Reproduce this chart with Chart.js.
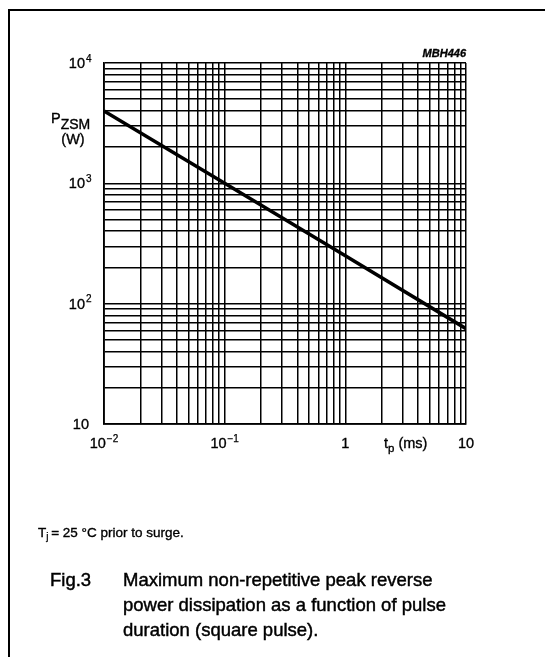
<!DOCTYPE html>
<html>
<head>
<meta charset="utf-8">
<script src="https://cdn.jsdelivr.net/npm/chart.js@4/dist/chart.umd.min.js"></script>
<style>
  html, body { margin: 0; padding: 0; background: #fff; }
  canvas { display: block; }
</style>
</head>
<body>
<canvas id="chart" width="545" height="657"></canvas>
<script>
// pulse duration tp (ms) and peak power PZSM (W)
const pulseDuration = [0.01, 0.1, 1, 10];
const peakPower = [4000, 1000, 250, 62];

// axis ranges and labelled ticks
const xRange = [0.01, 10];
const yRange = [10, 10000];
const xTickValues = [0.01, 0.1, 1, 10];
const xTickLabels = [['10', '\u22122'], ['10', '\u22121'], ['1', ''], ['10', '']];
const yTickValues = [10, 100, 1000, 10000];
const yTickLabels = [['10', ''], ['10', '2'], ['10', '3'], ['10', '4']];

const FONT = '"Liberation Sans", Arial, Helvetica, sans-serif';
const INK = '#000';

// 1..9 x 10^n lines for a log grid
function logGridTicks (min, max) {
  const ticks = [];
  for (let e = Math.floor(Math.log10(min)); e <= Math.ceil(Math.log10(max)); e++) {
    for (let m = 1; m <= 9; m++) {
      const v = Number((m * Math.pow(10, e)).toPrecision(6));
      if (v >= min && v <= max) ticks.push({ value: v, major: m === 1 });
    }
  }
  return ticks;
}

// text with a hairline stroke, so it reads as heavy as the scanned original
function put (ctx, str, x, y, size, opts = {}) {
  ctx.font = (opts.style || '') + ' ' + size + 'px ' + FONT;
  ctx.textAlign = opts.align || 'left';
  ctx.textBaseline = 'alphabetic';
  ctx.fillStyle = INK;
  ctx.strokeStyle = INK;
  ctx.lineWidth = opts.stroke === undefined ? 0.35 : opts.stroke;
  ctx.fillText(str, x, y);
  if (ctx.lineWidth > 0) ctx.strokeText(str, x, y);
  return ctx.measureText(str).width;
}

function width (ctx, str, size, style = '') {
  ctx.font = style + ' ' + size + 'px ' + FONT;
  return ctx.measureText(str).width;
}

const figureText = {
  id: 'figureText',
  beforeDraw (chart) {
    const ctx = chart.ctx;
    ctx.save();
    ctx.fillStyle = '#fff';
    ctx.fillRect(0, 0, chart.width, chart.height);
    ctx.restore();
  },
  afterDraw (chart) {
    const ctx = chart.ctx;
    const xs = chart.scales.x;
    const ys = chart.scales.y;
    ctx.save();

    // frame
    ctx.strokeStyle = INK;
    ctx.lineWidth = 2;
    ctx.beginPath();
    ctx.moveTo(545, 10);
    ctx.lineTo(9, 10);
    ctx.lineTo(9, 657);
    ctx.stroke();

    // x tick labels
    const xBase = 448;
    xTickValues.forEach((v, i) => {
      const [b, sup] = xTickLabels[i];
      const wb = width(ctx, b, 14.5);
      const ws = sup ? width(ctx, sup, 10) + 1 : 0;
      const x0 = xs.getPixelForValue(v) - (wb + ws) / 2;
      put(ctx, b, x0, xBase, 14.5);
      if (sup) put(ctx, sup, x0 + wb + 1, xBase - 6.5, 10, { stroke: 0.25 });
    });

    // y tick labels
    yTickValues.forEach((v, i) => {
      const [b, sup] = yTickLabels[i];
      const y = ys.getPixelForValue(v);
      if (sup) {
        put(ctx, b, 85, y + 5, 14.5, { align: 'right' });
        put(ctx, sup, 86, y - 1.5, 10, { stroke: 0.25 });
      } else {
        put(ctx, b, 89, y + 5, 14.5, { align: 'right' });
      }
    });

    // axis titles
    const wp = put(ctx, 'P', 51, 123, 14.5);
    put(ctx, 'ZSM', 51 + wp, 128.5, 14);
    put(ctx, '(W)', 73, 144, 14.5, { align: 'center' });

    const wt = put(ctx, 't', 384, xBase, 14.5);
    const wsub = put(ctx, 'p', 384 + wt, xBase + 4, 11.5);
    put(ctx, ' (ms)', 384 + wt + wsub, xBase, 14.5);

    put(ctx, 'MBH446', xs.right, 57, 11, { align: 'right', style: 'italic bold', stroke: 0 });

    // note
    const wT = put(ctx, 'T', 38, 537, 13.5);
    const wj = put(ctx, 'j', 38 + wT, 540, 10, { stroke: 0.25 });
    put(ctx, ' = 25 \u00b0C prior to surge.', 38 + wT + wj - 1, 537, 13.5);

    // caption
    put(ctx, 'Fig.3', 50, 586, 18.5, { stroke: 0.45 });
    put(ctx, 'Maximum non-repetitive peak reverse', 123, 586, 18.5, { stroke: 0.45 });
    put(ctx, 'power dissipation as a function of pulse', 123, 611, 18.5, { stroke: 0.45 });
    put(ctx, 'duration (square pulse).', 123, 636, 18.5, { stroke: 0.45 });

    ctx.restore();
  }
};

const gridStyle = {
  color: INK,
  lineWidth: 1.5,
  drawTicks: false
};

new Chart(document.getElementById('chart'), {
  type: 'line',
  data: {
    datasets: [{
      data: pulseDuration.map((t, i) => ({ x: t, y: peakPower[i] })),
      borderColor: '#000',
      borderWidth: 3.5,
      pointRadius: 0,
      tension: 0,
      fill: false
    }]
  },
  options: {
    responsive: false,
    animation: false,
    devicePixelRatio: 1,
    layout: { padding: { left: 104, right: 79, top: 63, bottom: 233 } },
    plugins: { legend: { display: false }, tooltip: { enabled: false } },
    scales: {
      x: {
        type: 'logarithmic',
        min: xRange[0],
        max: xRange[1],
        grid: gridStyle,
        border: { color: INK, width: 1.8 },
        ticks: { display: false },
        afterBuildTicks: (scale) => { scale.ticks = logGridTicks(xRange[0], xRange[1]); }
      },
      y: {
        type: 'logarithmic',
        min: yRange[0],
        max: yRange[1],
        grid: gridStyle,
        border: { color: INK, width: 1.8 },
        ticks: { display: false },
        afterBuildTicks: (scale) => { scale.ticks = logGridTicks(yRange[0], yRange[1]); }
      }
    }
  },
  plugins: [figureText]
});
</script>
</body>
</html>
